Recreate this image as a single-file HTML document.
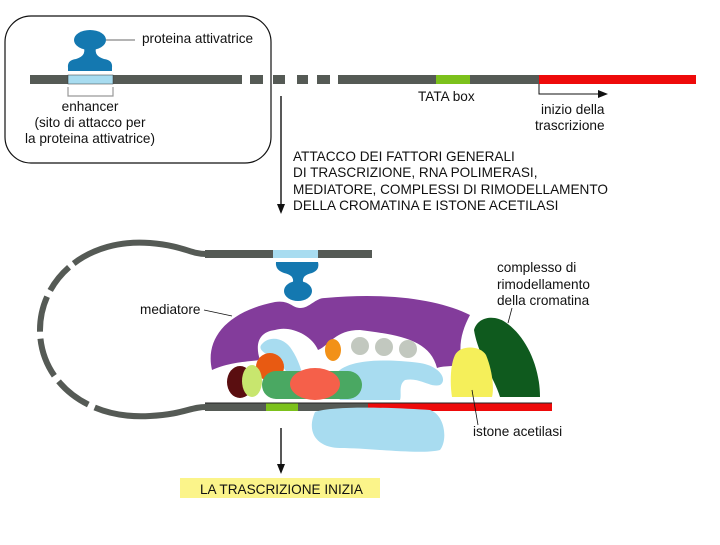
<!DOCTYPE html>
<html><head><meta charset="utf-8"><style>
body{margin:0;background:#fff;width:720px;height:540px;overflow:hidden}
svg text{font-family:"Liberation Sans",sans-serif;font-size:13.6px;fill:#111}
</style></head><body>
<svg width="720" height="540" viewBox="0 0 720 540" xmlns="http://www.w3.org/2000/svg">
<rect x="5" y="16" width="266" height="147" rx="26" fill="none" stroke="#111" stroke-width="1.2"/>
<rect x="30" y="75" width="212" height="9" fill="#555a55"/>
<rect x="68" y="75" width="45" height="9" fill="#a8dcf0" stroke="#333" stroke-width="0.5"/>
<rect x="250" y="75" width="13" height="9" fill="#555a55"/>
<rect x="273" y="75" width="12" height="9" fill="#555a55"/>
<rect x="297" y="75" width="11" height="9" fill="#555a55"/>
<rect x="317" y="75" width="13" height="9" fill="#555a55"/>
<rect x="338" y="75" width="98" height="9" fill="#555a55"/>
<rect x="436" y="75" width="34" height="9" fill="#7cc11c"/>
<rect x="470" y="75" width="69" height="9" fill="#555a55"/>
<rect x="539" y="75" width="157" height="9" fill="#ee0a0a"/>
<ellipse cx="90" cy="40" rx="16" ry="10" fill="#1478b0"/>
<path d="M84,48 L96,48 Q94,56 104,59 Q113,60 112,68 L112,71 L68,71 L68,68 Q67,60 76,59 Q86,56 84,48Z" fill="#1478b0"/>
<line x1="106" y1="40" x2="135" y2="40" stroke="#888" stroke-width="1.2"/>
<text x="142" y="43">proteina attivatrice</text>
<path d="M68,87 V96 H113 V87" fill="none" stroke="#999" stroke-width="1.2"/>
<text x="90" y="111" text-anchor="middle">enhancer</text>
<text x="90" y="127" text-anchor="middle">(sito di attacco per</text>
<text x="90" y="143" text-anchor="middle">la proteina attivatrice)</text>
<text x="418" y="101">TATA box</text>
<path d="M539,84 V94 H600" fill="none" stroke="#111" stroke-width="1"/>
<path d="M608,94 L598,90 L598,98Z" fill="#111"/>
<text x="541" y="114">inizio della</text>
<text x="535" y="130">trascrizione</text>
<line x1="281" y1="96" x2="281" y2="206" stroke="#111" stroke-width="1.4"/>
<path d="M277,204 L285,204 L281,214Z" fill="#111"/>
<text x="293" y="161">ATTACCO DEI FATTORI GENERALI</text>
<text x="293" y="177">DI TRASCRIZIONE, RNA POLIMERASI,</text>
<text x="293" y="194">MEDIATORE, COMPLESSI DI RIMODELLAMENTO</text>
<text x="293" y="210">DELLA CROMATINA E ISTONE ACETILASI</text>
<line x1="281" y1="428" x2="281" y2="466" stroke="#111" stroke-width="1.4"/>
<path d="M277,464 L285,464 L281,474Z" fill="#111"/>
<rect x="180" y="478" width="200" height="20" fill="#fbf48a"/>
<text x="200" y="494">LA TRASCRIZIONE INIZIA</text>
<path d="M206,254 C190,254 185,246 150,243 C85,238 40,280 40,330 C40,380 85,420 150,416 C185,414 190,407 206,407" fill="none" stroke="#555a55" stroke-width="6" stroke-dasharray="138,6,30,7,36,7,40,7,38,7,300"/>
<rect x="205" y="250" width="167" height="8" fill="#555a55"/>
<rect x="273" y="250" width="45" height="8" fill="#a8dcf0"/>
<rect x="205" y="403" width="163" height="8" fill="#555a55"/>
<rect x="266" y="403" width="32" height="8" fill="#7cc11c"/>
<rect x="368" y="403" width="184" height="8" fill="#ee0a0a"/>
<line x1="205" y1="403" x2="552" y2="403" stroke="#222" stroke-width="1"/>
<path d="M276,262 L318,262 Q320,270 312,273 Q302,275 303,282 L293,282 Q294,275 284,273 Q275,270 276,262Z" fill="#1478b0"/>
<ellipse cx="298" cy="291" rx="14" ry="10" fill="#1478b0"/>
<path d="M212,370 C205,340 225,312 275,302 C290,300 292,308 300,308 C310,308 315,298 325,298 C390,292 440,300 470,315 C462,330 458,345 462,362 C455,368 445,365 437,368 C430,340 400,335 360,330 C335,330 330,345 318,350 C312,335 290,325 275,330 C258,332 255,345 260,360 C245,362 230,362 212,370Z" fill="#833c9b"/>
<path d="M474,330 C478,316 495,315 505,322 C525,335 540,365 540,397 L500,397 C495,380 478,355 474,330Z" fill="#0f5a1e"/>
<path d="M455,355 C460,345 480,345 486,355 C493,372 494,390 492,397 L452,397 C450,385 450,365 455,355Z" fill="#f5ef5a"/>
<path d="M262,344 C270,335 285,338 292,350 C300,362 305,380 306,395 L297,395 C292,378 282,362 270,356 C262,352 258,348 262,344Z" fill="#a8dcf0"/>
<path d="M335,375 C345,360 380,358 420,363 C440,366 448,380 440,385 C430,388 420,377 405,380 C398,385 402,395 400,400 L340,400 C335,392 330,385 335,375Z" fill="#a8dcf0"/>
<path d="M315,412 C335,405 400,408 430,410 C445,415 448,440 440,450 C420,455 370,448 340,448 C320,448 305,435 315,412Z" fill="#a8dcf0"/>
<ellipse cx="333" cy="350" rx="8" ry="11" fill="#f29118"/>
<circle cx="360" cy="346" r="9" fill="#c2c8bf"/>
<circle cx="384" cy="347" r="9" fill="#c2c8bf"/>
<circle cx="408" cy="349" r="9" fill="#c2c8bf"/>
<ellipse cx="270" cy="367" rx="14" ry="14" fill="#e85a12"/>
<ellipse cx="240" cy="382" rx="13" ry="16" fill="#5a0e10"/>
<ellipse cx="252" cy="381" rx="10" ry="16" fill="#c8e66e"/>
<rect x="262" y="371" width="100" height="28" rx="14" fill="#4aa862"/>
<ellipse cx="315" cy="384" rx="25" ry="16" fill="#f5604a"/>
<text x="140" y="314">mediatore</text>
<line x1="204" y1="310" x2="232" y2="316" stroke="#111" stroke-width="0.8"/>
<text x="497" y="272">complesso di</text>
<text x="497" y="289">rimodellamento</text>
<text x="497" y="305">della cromatina</text>
<line x1="512" y1="308" x2="508" y2="323" stroke="#111" stroke-width="0.8"/>
<text x="473" y="436">istone acetilasi</text>
<line x1="478" y1="425" x2="472" y2="390" stroke="#111" stroke-width="0.8"/>
</svg>
</body></html>
